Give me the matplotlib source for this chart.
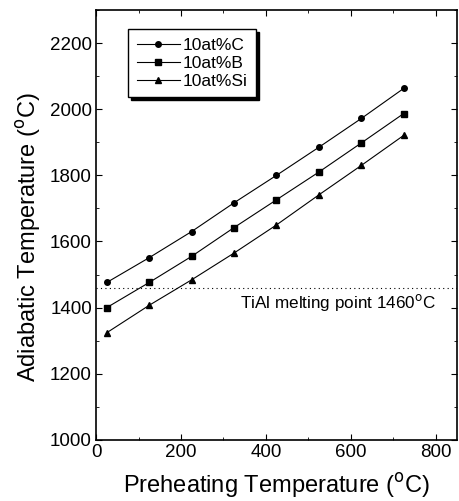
import matplotlib
matplotlib.use('Agg')
import matplotlib.pyplot as plt
from matplotlib.ticker import MultipleLocator

plt.rcParams['font.family'] = ['Liberation Sans', 'DejaVu Sans']

preheat = [25, 125, 225, 325, 425, 525, 625, 725]
temp_c = [1476, 1551, 1630, 1717, 1800, 1885, 1972, 2063]
temp_b = [1400, 1476, 1555, 1642, 1726, 1810, 1898, 1987]
temp_si = [1324, 1407, 1484, 1565, 1650, 1741, 1830, 1921]
series_labels = ['10at%C', '10at%B', '10at%Si']
melting_point = 1460

fig = plt.figure(figsize=(4.6, 5.01), dpi=100)
ax = fig.add_axes([0.209, 0.122, 0.784, 0.858])

ax.plot(preheat, temp_c, '-o', color='black', lw=0.8, ms=4, label=series_labels[0])
ax.plot(preheat, temp_b, '-s', color='black', lw=0.8, ms=4, label=series_labels[1])
ax.plot(preheat, temp_si, '-^', color='black', lw=0.8, ms=4, label=series_labels[2])

ax.axhline(melting_point, color='black', lw=0.8, ls=(0, (1, 3)))
ax.text(800, 1415, 'TiAl melting point 1460$^{\\mathrm{o}}$C', ha='right', va='center', fontsize=12.3)

ax.set_xlim(0, 850)
ax.set_ylim(1000, 2300)
ax.xaxis.set_major_locator(MultipleLocator(200))
ax.xaxis.set_minor_locator(MultipleLocator(100))
ax.yaxis.set_major_locator(MultipleLocator(200))
ax.yaxis.set_minor_locator(MultipleLocator(100))
ax.tick_params(which='both', direction='in', top=True, right=True, labelsize=13.5, pad=3)
ax.tick_params(which='major', length=4)
ax.tick_params(which='minor', length=2)
for s in ax.spines.values():
    s.set_linewidth(1.2)

ax.set_xlabel('Preheating Temperature ($^{\\mathrm{o}}$C)', fontsize=17, labelpad=7)
ax.set_ylabel('Adiabatic Temperature ($^{\\mathrm{o}}$C)', fontsize=17, labelpad=5)
ax.yaxis.label.set_y(0.473)

leg = ax.legend(loc='upper left', bbox_to_anchor=(0.088, 0.955), fontsize=12.5,
                frameon=True, fancybox=False, shadow={'color': 'black', 'alpha': 1},
                handlelength=2.5, handletextpad=0.15, borderpad=0.5,
                labelspacing=0.15, borderaxespad=0)
leg.get_frame().set_edgecolor('black')
leg.get_frame().set_linewidth(1.0)

fig.savefig('out.png', dpi=100)
